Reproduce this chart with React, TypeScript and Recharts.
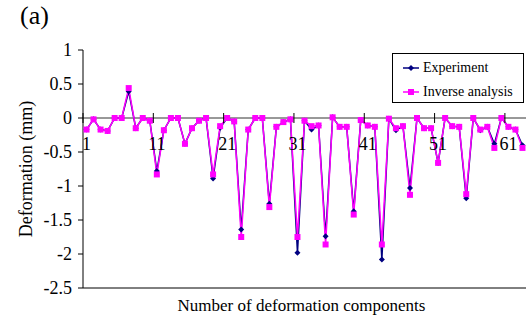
import React from 'react';
import { LineChart, Line, XAxis, YAxis, ReferenceLine, Legend } from 'recharts';

// deformation values (mm)
const components = Array.from({ length: 63 }, (_, i) => String(i + 1));
const experiment = [
  -0.17, -0.02, -0.17, -0.19, 0, 0, 0.39, -0.15, 0, -0.04,
  -0.78, -0.18, 0, 0, -0.38, -0.15, -0.04, 0, -0.89, -0.145,
  0, -0.05, -1.64, -0.17, 0, 0, -1.26, -0.13, -0.06, -0.02,
  -1.98, -0.04, -0.17, -0.11, -1.74, 0.01, -0.13, -0.13, -1.37, -0.03,
  -0.11, -0.13, -2.08, -0.01, -0.18, -0.12, -1.03, 0, -0.15, -0.15,
  -0.66, 0, -0.12, -0.13, -1.18, 0, -0.18, -0.13, -0.38, 0,
  -0.13, -0.17, -0.4,
];
const inverse = [
  -0.17, -0.02, -0.17, -0.19, 0, 0, 0.44, -0.15, 0, -0.04,
  -0.83, -0.18, 0, 0, -0.38, -0.15, -0.04, 0, -0.83, -0.12,
  0, -0.05, -1.75, -0.17, 0, 0, -1.31, -0.13, -0.06, -0.02,
  -1.75, -0.04, -0.12, -0.11, -1.86, 0.01, -0.13, -0.13, -1.42, -0.03,
  -0.11, -0.13, -1.86, -0.01, -0.15, -0.12, -1.13, 0, -0.15, -0.15,
  -0.66, 0, -0.12, -0.13, -1.12, 0, -0.17, -0.13, -0.44, 0,
  -0.13, -0.17, -0.44,
];
const xTicks = ['1', '11', '21', '31', '41', '51', '61'];
const yTicks = [-2.5, -2, -1.5, -1, -0.5, 0, 0.5, 1];

const data = components.map((c, i) => ({ n: c, exp: experiment[i], inv: inverse[i] }));

const FONT = "'Liberation Serif', 'Times New Roman', serif";
const W = 528;
const H = 321;
const TOP = 50;
const LEFT = 83;
const RIGHT_M = 2;
const XAXIS_H = 33;
const PLOT_W = W - LEFT - RIGHT_M;
const PLOT_H = H - TOP - XAXIS_H;
const BAND = PLOT_W / components.length;
const ZERO_Y = TOP + (PLOT_H * 1) / 3.5;

const XTick = (props: any) => {
  const { x, payload } = props;
  const tx = x - BAND / 2;
  return (
    <g>
      <line x1={tx} x2={tx} y1={ZERO_Y - 5} y2={ZERO_Y + 5} stroke="#000" />
      <text x={x} y={ZERO_Y + 32} textAnchor="middle" fill="#000" style={{ fontSize: 18, fontFamily: FONT }}>
        {payload.value}
      </text>
    </g>
  );
};

const Square = (props: any) => {
  const { cx, cy, index } = props;
  return <rect key={'s' + index} x={cx - 3} y={cy - 3} width={6} height={6} fill="#ff00ff" />;
};

const Diamond = (props: any) => {
  const { cx, cy, index } = props;
  return (
    <path key={'d' + index} d={`M${cx},${cy - 3}L${cx + 3},${cy}L${cx},${cy + 3}L${cx - 3},${cy}Z`} fill="#000080" />
  );
};

const LegendBox = (props: any) => {
  const { payload } = props;
  return (
    <div
      style={{
        width: 132, height: 50, boxSizing: 'border-box', border: '1px solid #000', background: '#fff',
        fontFamily: FONT, fontSize: 14, color: '#000', paddingTop: 2,
      }}
    >
      {payload.map((entry: any) => (
        <div key={entry.value} style={{ display: 'flex', alignItems: 'center', height: 24 }}>
          <svg width={16} height={10} style={{ marginLeft: 10, marginRight: 4 }}>
            <line x1={0} x2={16} y1={5} y2={5} stroke={entry.color} strokeWidth={1.5} />
            {entry.dataKey === 'inv'
              ? <rect x={5} y={2} width={6} height={6} fill={entry.color} />
              : <path d="M8,2L11,5L8,8L5,5Z" fill={entry.color} />}
          </svg>
          <span>{entry.value}</span>
        </div>
      ))}
    </div>
  );
};

export default function App() {
  return (
    <div style={{ position: 'relative', width: W, height: H, background: '#fff', fontFamily: FONT }}>
      <style>{'body{margin:0}'}</style>
      <div style={{ position: 'absolute', left: 20, top: 1, fontSize: 26, lineHeight: '30px', color: '#000' }}>(a)</div>
      <LineChart width={W} height={H} data={data} margin={{ top: TOP, right: RIGHT_M, bottom: 0, left: 0 }} style={{ fontFamily: FONT }}>
        <XAxis
          dataKey="n"
          ticks={xTicks}
          interval={0}
          height={XAXIS_H}
          padding={{ left: BAND / 2, right: BAND / 2 }}
          tickLine={false}
          axisLine={{ stroke: '#000' }}
          tick={<XTick />}
          label={{ value: 'Number of deformation components', position: 'insideBottom', offset: 10, dx: -3, fill: '#000', fontSize: 17, fontFamily: FONT }}
        />
        <XAxis xAxisId="top" orientation="top" dataKey="n" height={0} tick={false} tickLine={false} axisLine={{ stroke: '#000' }} />
        <YAxis
          domain={[-2.5, 1]}
          ticks={yTicks}
          interval={0}
          width={LEFT}
          tickSize={5}
          tickMargin={6}
          axisLine={{ stroke: '#000' }}
          tickLine={{ stroke: '#000' }}
          tick={{ fill: '#000', fontSize: 18, fontFamily: FONT }}
          label={{ value: 'Deformation (mm)', angle: -90, position: 'insideLeft', offset: 26, style: { textAnchor: 'middle' }, fill: '#000', fontSize: 18, fontFamily: FONT }}
        />
        <YAxis yAxisId="right" orientation="right" width={0} tick={false} tickLine={false} axisLine={{ stroke: '#000' }} />
        <ReferenceLine y={0} stroke="#333" />
        <Legend
          layout="vertical"
          align="center"
          verticalAlign="middle"
          wrapperStyle={{ left: 392, top: 53, width: 132 }}
          content={<LegendBox />}
        />
        <Line type="linear" dataKey="exp" name="Experiment" stroke="#000080" strokeWidth={1.5} dot={<Diamond />} activeDot={false} isAnimationActive={false} />
        <Line type="linear" dataKey="inv" name="Inverse analysis" stroke="#ff00ff" strokeWidth={1.5} dot={<Square />} activeDot={false} isAnimationActive={false} />
      </LineChart>
    </div>
  );
}
